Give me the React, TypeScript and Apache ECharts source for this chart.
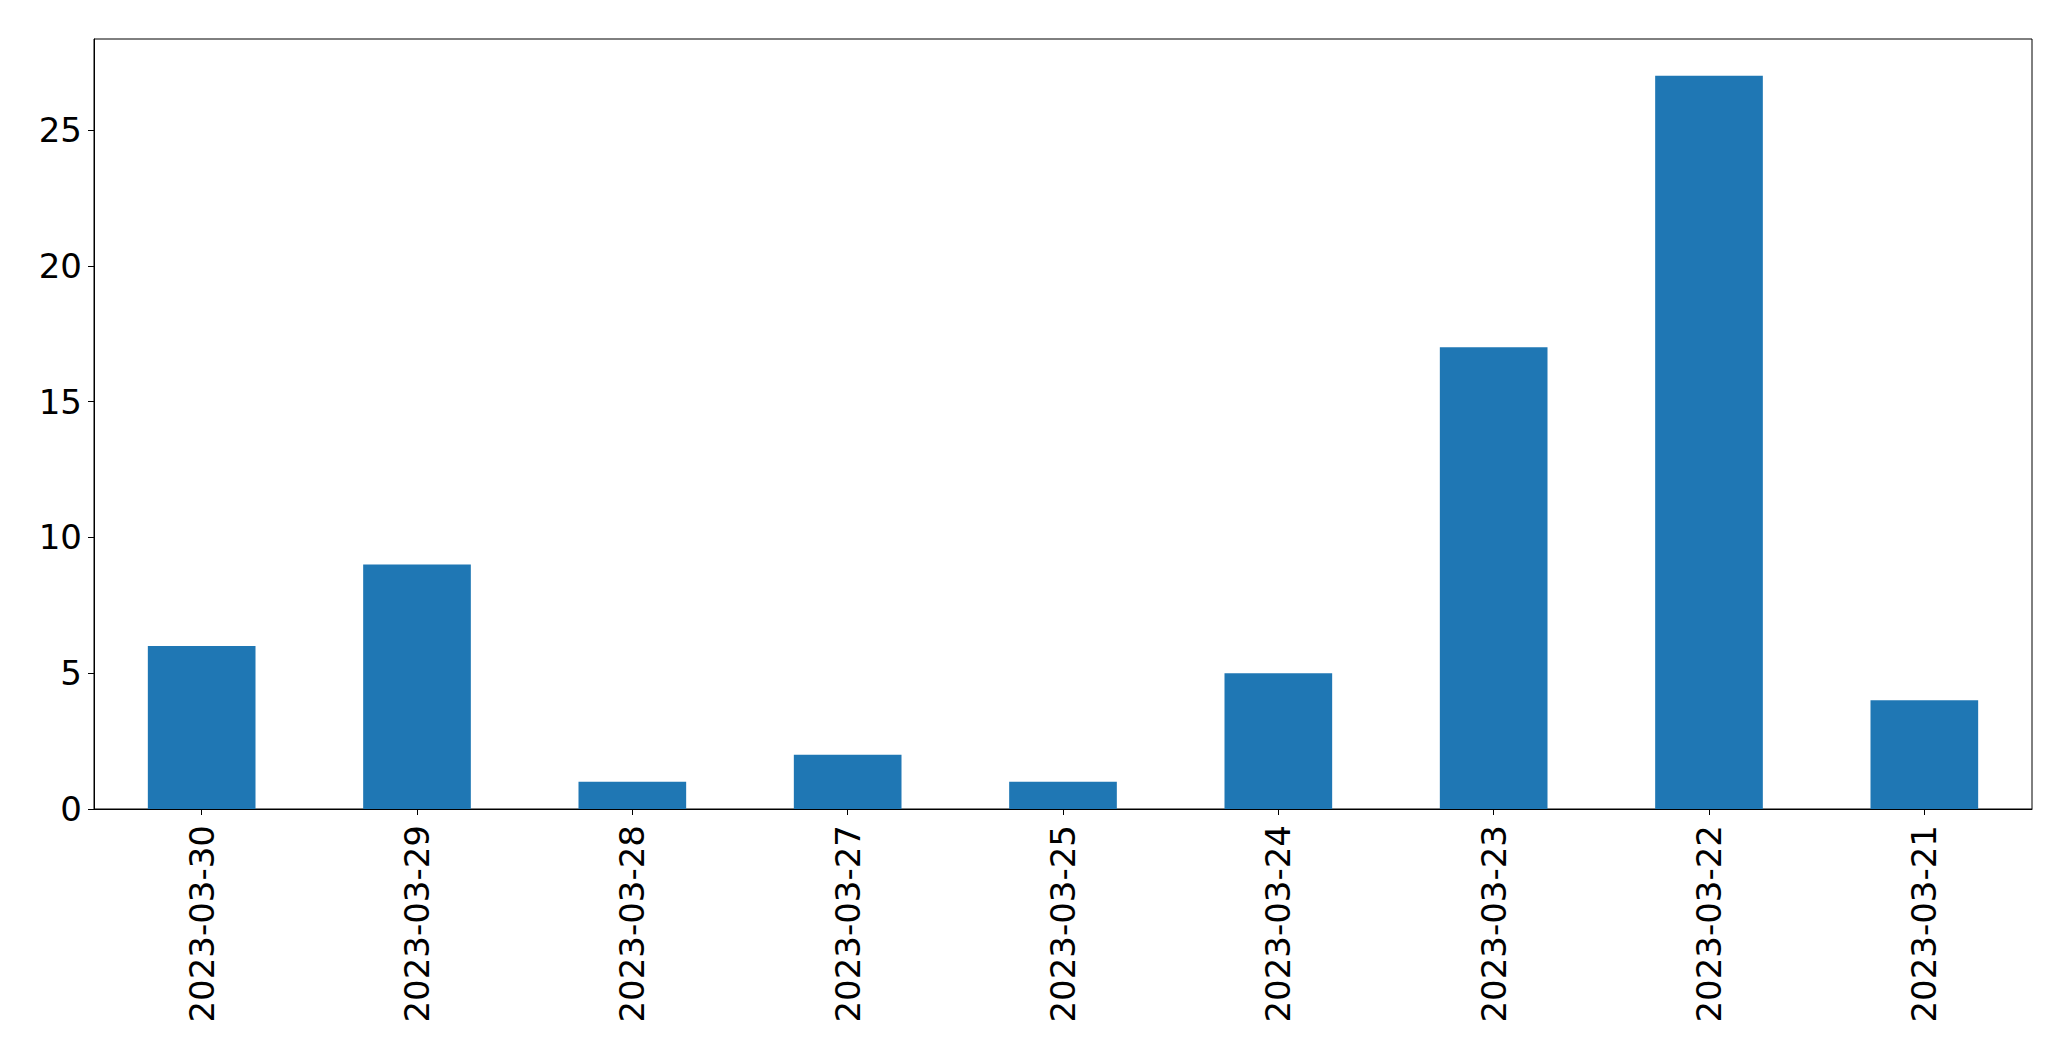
import React, { useEffect, useRef } from "react";
import * as echarts from "echarts";

const categories = [
  "2023-03-30",
  "2023-03-29",
  "2023-03-28",
  "2023-03-27",
  "2023-03-25",
  "2023-03-24",
  "2023-03-23",
  "2023-03-22",
  "2023-03-21",
];
const counts = [6, 9, 1, 2, 1, 5, 17, 27, 4];
const yTicks = [0, 5, 10, 15, 20, 25];

export default function App() {
  const ref = useRef<HTMLDivElement>(null);
  useEffect(() => {
    if (!ref.current) return;
    const chart = echarts.init(ref.current, null, { renderer: "svg" });
    const font = "DejaVu Sans";
    const yMax = Math.max(...counts) * 1.05;
    chart.setOption({
      animation: false,
      backgroundColor: "#ffffff",
      grid: {
        left: 94,
        right: 39,
        top: 39,
        bottom: 252,
        show: true,
        borderColor: "#000000",
        borderWidth: 1,
        backgroundColor: "transparent",
      },
      xAxis: {
        type: "category",
        data: categories,
        boundaryGap: true,
        axisLine: { show: true, lineStyle: { color: "#000000", width: 1 } },
        axisTick: {
          show: true,
          alignWithLabel: true,
          length: 6,
          lineStyle: { color: "#000000", width: 1 },
        },
        axisLabel: {
          rotate: 90,
          interval: 0,
          margin: 16,
          color: "#000000",
          fontFamily: font,
          fontSize: 34,
        },
        splitLine: { show: false },
      },
      yAxis: {
        type: "value",
        min: 0,
        max: yMax,
        axisLine: { show: true, lineStyle: { color: "#000000", width: 1 } },
        axisTick: {
          show: true,
          length: 6,
          customValues: yTicks,
          lineStyle: { color: "#000000", width: 1 },
        },
        axisLabel: {
          customValues: yTicks,
          margin: 12,
          color: "#000000",
          fontFamily: font,
          fontSize: 34,
        },
        splitLine: { show: false },
      },
      series: [
        {
          type: "bar",
          data: counts,
          barWidth: "50%",
          itemStyle: { color: "#1f77b4" },
        },
      ],
    });
    return () => chart.dispose();
  }, []);
  return (
    <div
      ref={ref}
      style={{ position: "fixed", left: 0, top: 0, width: 2071, height: 1061 }}
    />
  );
}
